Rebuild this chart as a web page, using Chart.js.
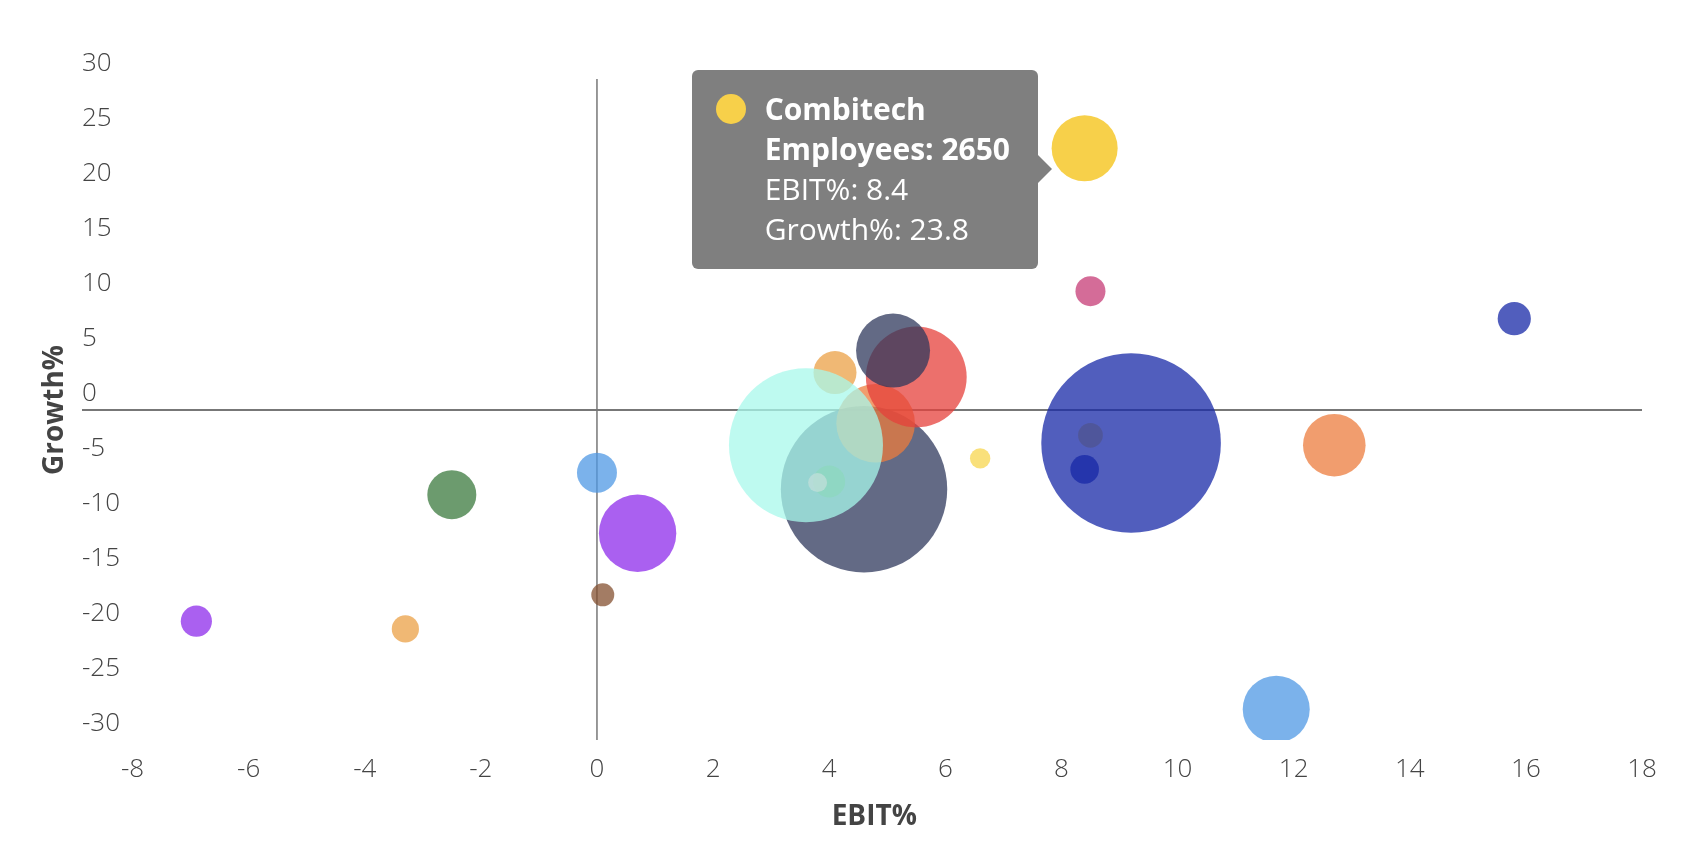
<!DOCTYPE html>
<html>
<head>
<meta charset="utf-8">
<title>EBIT% vs Growth%</title>
<script src="https://cdn.jsdelivr.net/npm/chart.js@4.4.1/dist/chart.umd.min.js"></script>
<style>
  html, body { margin: 0; padding: 0; background: #fff; overflow: hidden; }
  #wrap { position: relative; width: 1704px; height: 868px; }
  .tip {
    position: absolute;
    background: rgba(0, 0, 0, 0.5);
    border-radius: 6px;
    padding: 19px 28px 20px 73px;
    color: #fff;
    font-family: 'Open Sans', sans-serif;
    font-size: 30px;
    line-height: 40px;
    white-space: nowrap;
    pointer-events: none;
  }
  .tip::after {
    content: "";
    position: absolute;
    left: 100%;
    top: 50%;
    margin-top: -14px;
    border-top: 14px solid transparent;
    border-bottom: 14px solid transparent;
    border-left: 14px solid rgba(0, 0, 0, 0.5);
  }
  .tip .dot {
    position: absolute;
    left: 24px;
    top: 24px;
    width: 30px;
    height: 30px;
    border-radius: 50%;
  }
  .tip b { font-weight: 700; }
</style>
</head>
<body>
<div id="wrap"><canvas id="myCanvas"></canvas></div>
<script>
// one entry per company, drawn in this order (later ones lie on top)
const names = ["", "", "", "", "", "", "", "", "", "", "", "", "", "", "", "", "", "", "", "Combitech", "", "", ""];
const employees = [null, null, null, null, null, null, null, null, null, null, null, null, null, null, null, null, null, null, null, 2650, null, null, null];
const ebit = [-6.9, -3.3, -2.5, 0, 0.1, 0.7, 4.6, 4.8, 5.5, 5.1, 4.1, 4.0, 3.6, 3.8, 6.6, 8.5, 9.2, 8.4, 8.5, 8.4, 12.7, 11.7, 15.8];
const growth = [-19.2, -19.9, -7.7, -5.7, -16.8, -11.2, -7.2, -1.2, 3.0, 5.4, 3.4, -6.5, -3.2, -6.6, -4.4, -2.3, -3.0, -5.4, 10.8, 23.8, -3.2, -27.2, 8.3];
const bubbleR = [15.6, 13.6, 24.5, 20, 11.5, 38.7, 83.2, 39.3, 50.4, 37, 21.5, 16, 77, 9.5, 10.2, 12.4, 89.8, 14.3, 15, 33, 31.3, 33.5, 16.6];
const colors = [
  "rgba(142,43,235,0.75)", "rgba(235,160,70,0.75)", "rgba(59,122,62,0.75)", "rgba(79,152,228,0.75)",
  "rgba(132,80,48,0.75)", "rgba(142,43,235,0.75)", "rgba(47,56,92,0.75)", "rgba(236,124,62,0.75)",
  "rgba(230,64,59,0.75)", "rgba(47,56,92,0.75)", "rgba(235,160,70,0.75)", "rgba(59,122,62,0.75)",
  "rgba(168,248,235,0.75)", "rgba(192,223,217,0.75)", "rgba(247,214,78,0.75)", "rgba(247,214,78,0.75)",
  "rgba(23,40,167,0.75)", "rgba(23,40,167,0.75)", "rgba(198,59,118,0.75)", "rgba(244,192,14,0.75)",
  "rgba(236,124,62,0.75)", "rgba(79,152,228,0.75)", "rgba(23,40,167,0.75)"
];
const activeIndex = 19;

const points = ebit.map((x, i) => ({ x: x, y: growth[i], r: bubbleR[i] }));

// colour as it looks on white, for the tooltip dot
function onWhite(rgba) {
  const p = rgba.match(/[\d.]+/g).map(Number);
  const a = p[3];
  return "rgb(" + [0, 1, 2].map((k) => Math.round(p[k] * a + 255 * (1 - a))).join(",") + ")";
}

const crossLines = {
  id: "crossLines",
  beforeDatasetsDraw(chart) {
    const { ctx, chartArea, scales } = chart;
    const y0 = scales.y.getPixelForValue(0);
    const x0 = scales.x.getPixelForValue(0);
    ctx.save();
    ctx.strokeStyle = "#777";
    ctx.lineWidth = 2;
    ctx.beginPath();
    ctx.moveTo(scales.y.left, y0);
    ctx.lineTo(chartArea.right, y0);
    ctx.stroke();
    ctx.lineWidth = 1.5;
    ctx.beginPath();
    ctx.moveTo(x0, chartArea.top - 1);
    ctx.lineTo(x0, chartArea.bottom);
    ctx.stroke();
    ctx.restore();
  }
};

const axisTitles = {
  id: "axisTitles",
  afterDraw(chart) {
    const { ctx, chartArea } = chart;
    ctx.save();
    ctx.fillStyle = "#444";
    ctx.font = "bold 28px 'Open Sans', sans-serif";
    ctx.textAlign = "center";
    ctx.textBaseline = "middle";
    ctx.fillText("EBIT%", (chartArea.left + chartArea.right) / 2 - 13, chartArea.bottom + 77);
    ctx.translate(55, (chartArea.top + chartArea.bottom) / 2);
    ctx.rotate(-Math.PI / 2);
    ctx.fillText("Growth%", 0, 0);
    ctx.restore();
  }
};

function externalTooltip(context) {
  const { chart, tooltip } = context;
  let el = document.getElementById("tip");
  if (!el) {
    el = document.createElement("div");
    el.id = "tip";
    el.className = "tip";
    chart.canvas.parentNode.appendChild(el);
  }
  if (tooltip.opacity === 0 || !tooltip.dataPoints || !tooltip.dataPoints.length) {
    el.style.opacity = 0;
    return;
  }
  const dp = tooltip.dataPoints[0];
  const i = dp.dataIndex;
  el.innerHTML =
    '<span class="dot" style="background:' + onWhite(colors[i]) + '"></span>' +
    "<b>" + names[i] + "</b><br>" +
    "<b>Employees: " + employees[i] + "</b><br>" +
    "EBIT%: " + ebit[i] + "<br>" +
    "Growth%: " + growth[i];
  el.style.opacity = 1;
  // caret touches the left edge of the bubble, a little below its centre
  const pt = dp.element;
  el.style.left = (pt.x - pt.options.radius - 14 - el.offsetWidth) + "px";
  el.style.top = (pt.y + 21 - el.offsetHeight / 2) + "px";
}

Chart.defaults.font.family = "'Open Sans', sans-serif";
Chart.defaults.color = "#444";

const ctx = document.getElementById("myCanvas").getContext("2d");
const chart = new Chart(ctx, {
  type: "bubble",
  data: {
    datasets: [
      {
        label: "Companies",
        data: points,
        backgroundColor: colors,
        hoverBackgroundColor: colors,
        borderWidth: 0,
        hoverBorderWidth: 0,
        hoverRadius: 0
      }
    ]
  },
  options: {
    responsive: true,
    maintainAspectRatio: false,
    animation: false,
    events: [],
    layout: { autoPadding: false, padding: { left: 82, right: 62, top: 80, bottom: 0 } },
    plugins: {
      legend: { display: false },
      tooltip: { enabled: false, external: externalTooltip }
    },
    scales: {
      x: {
        type: "linear",
        min: -8,
        max: 18,
        grid: { display: false, drawTicks: false },
        border: { display: false },
        ticks: { stepSize: 2, padding: 14, font: { size: 26, weight: "300" }, color: "#444" },
        afterFit(scale) { scale.height = 128; }
      },
      y: {
        type: "linear",
        min: -30,
        max: 30,
        grid: { display: false, drawTicks: false },
        border: { display: false },
        ticks: { stepSize: 5, crossAlign: "far", labelOffset: -16, font: { size: 26, weight: "300" }, color: "#444" },
        afterFit(scale) { scale.width = 50.5; }
      }
    }
  },
  plugins: [crossLines, axisTitles]
});

chart.tooltip.setActiveElements([{ datasetIndex: 0, index: activeIndex }], { x: 0, y: 0 });
chart.update();
</script>
</body>
</html>
